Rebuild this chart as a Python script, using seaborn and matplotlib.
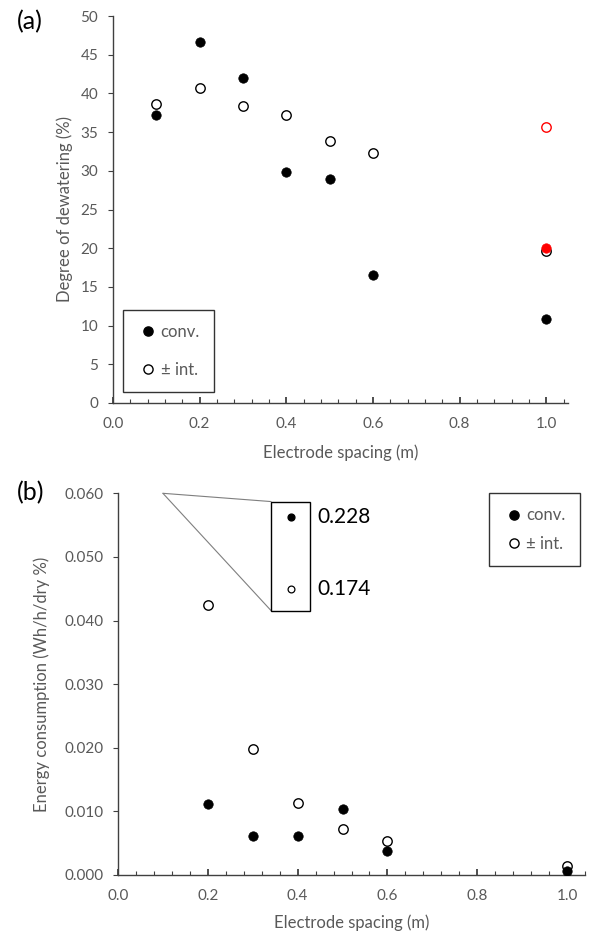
import matplotlib
matplotlib.use("Agg")
import matplotlib.pyplot as plt
from matplotlib.ticker import MultipleLocator, FormatStrFormatter
from matplotlib.lines import Line2D
import seaborn as sns
import pandas as pd

# ---------------- data ----------------
spacing_a = [0.1, 0.2, 0.3, 0.4, 0.5, 0.6, 1.0]
dew_conv = [37.2, 46.7, 42.0, 29.9, 28.9, 16.5, 10.8]
dew_int = [38.6, 40.7, 38.4, 37.2, 33.9, 32.3, 19.6]
red_spacing = [1.0]
dew_conv_red = [20.0]
dew_int_red = [35.7]

spacing_b = [0.2, 0.3, 0.4, 0.5, 0.6, 1.0]
energy_conv = [0.0111, 0.0062, 0.0062, 0.0103, 0.0038, 0.0007]
energy_int = [0.0424, 0.0198, 0.0113, 0.0073, 0.0053, 0.0014]
off_spacing = 0.1
off_conv = 0.228
off_int = 0.174

labels = ["conv.", "± int."]

# ---------------- style ----------------
sns.set_theme(style="white")
plt.rcParams['font.family'] = ['Lato', 'DejaVu Sans']
GRAY = '#595959'
SPINE = '#404040'

fig = plt.figure(figsize=(5.92, 9.35), dpi=100)
ax_a = fig.add_axes([113/592, (935-403)/935, 455/592, 387/935])
ax_b = fig.add_axes([118/592, (935-875)/935, 467/592, 381.7/935])

MS = 46
df_a = pd.DataFrame({"x": spacing_a, "conv": dew_conv, "int": dew_int})
df_ar = pd.DataFrame({"x": red_spacing, "conv": dew_conv_red, "int": dew_int_red})
df_b = pd.DataFrame({"x": spacing_b, "conv": energy_conv, "int": energy_int})

# panel a
sns.scatterplot(data=df_a, x="x", y="int", ax=ax_a, s=MS, facecolor='white',
                edgecolor='black', linewidth=1.0, zorder=3)
sns.scatterplot(data=df_a, x="x", y="conv", ax=ax_a, s=MS, color='black',
                edgecolor='black', linewidth=0.5, zorder=4)
sns.scatterplot(data=df_ar, x="x", y="int", ax=ax_a, s=MS, facecolor='white',
                edgecolor='red', linewidth=1.0, zorder=5)
sns.scatterplot(data=df_ar, x="x", y="conv", ax=ax_a, s=MS, color='red',
                edgecolor='red', linewidth=0.5, zorder=5)

# panel b
sns.scatterplot(data=df_b, x="x", y="int", ax=ax_b, s=MS, facecolor='white',
                edgecolor='black', linewidth=1.0, zorder=3)
sns.scatterplot(data=df_b, x="x", y="conv", ax=ax_b, s=MS, color='black',
                edgecolor='black', linewidth=0.5, zorder=4)

def style_axes(ax, xmax, ymax, ymajor, yfmt, ylabel, ylab_x, xlab_y):
    ax.set_xlim(0, xmax)
    ax.set_ylim(0, ymax)
    ax.xaxis.set_major_locator(MultipleLocator(0.2))
    ax.xaxis.set_minor_locator(MultipleLocator(0.04))
    ax.xaxis.set_major_formatter(FormatStrFormatter('%.1f'))
    ax.yaxis.set_major_locator(MultipleLocator(ymajor))
    ax.yaxis.set_major_formatter(FormatStrFormatter(yfmt))
    for s in ['top', 'right']:
        ax.spines[s].set_visible(False)
    for s in ['left', 'bottom']:
        ax.spines[s].set_color(SPINE)
        ax.spines[s].set_linewidth(1.0)
    ax.tick_params(axis='x', which='major', direction='in', length=4, width=1.3,
                   color=SPINE, labelcolor=GRAY, labelsize=11, pad=10, bottom=True)
    ax.tick_params(axis='x', which='minor', direction='in', length=2.6, width=0.8,
                   color=SPINE, bottom=True)
    ax.tick_params(axis='y', which='major', direction='out', length=3.6, width=0.8,
                   color=SPINE, labelcolor=GRAY, labelsize=11, pad=7, left=True)
    ax.set_xlabel("Electrode spacing (m)", fontsize=12, color=GRAY)
    ax.set_ylabel(ylabel, fontsize=12, color=GRAY)
    ax.yaxis.set_label_coords(ylab_x, 0.5)
    ax.xaxis.set_label_coords(0.5, xlab_y)
    ax.grid(False)
    ax.set_facecolor('white')

style_axes(ax_a, 1.05, 50, 5, '%d', "Degree of dewatering (%)", -0.088, -0.108)
style_axes(ax_b, 1.04, 0.060, 0.010, '%.3f', "Energy consumption (Wh/h/dry %)", -0.146, -0.104)

handles = [
    Line2D([], [], marker='o', linestyle='none', markersize=6.6,
           markerfacecolor='black', markeredgecolor='black'),
    Line2D([], [], marker='o', linestyle='none', markersize=6.6,
           markerfacecolor='white', markeredgecolor='black', markeredgewidth=1.0),
]
for ax, loc, anchor, spacing in [
        (ax_a, 'lower left', (0.022, 0.028), 1.3),
        (ax_b, 'upper right', (0.989, 1.0), 0.75)]:
    leg = ax.legend(handles, labels, loc=loc, bbox_to_anchor=anchor, borderaxespad=0,
                    frameon=True, fancybox=False, edgecolor='black', fontsize=12,
                    labelspacing=spacing, handletextpad=0.1, handlelength=1.3,
                    borderpad=0.85)
    leg.get_frame().set_linewidth(1.0)
    for t in leg.get_texts():
        t.set_color(GRAY)

# inset callout for off-scale values at 0.1 m in panel b
bx0, bx1, by0, by1 = 0.341, 0.428, 0.04155, 0.0587
ax_b.plot([off_spacing, bx0], [0.060, by1], color='#7f7f7f', lw=0.8, clip_on=False, zorder=2)
ax_b.plot([off_spacing, bx0], [0.060, by0], color='#7f7f7f', lw=0.8, clip_on=False, zorder=2)
ax_b.add_patch(plt.Rectangle((bx0, by0), bx1 - bx0, by1 - by0, fill=True,
                             facecolor='white', edgecolor='black', lw=1.0, zorder=3,
                             clip_on=False))
mx = (bx0 + bx1) / 2
ax_b.scatter([mx], [0.0562], s=24, color='black', zorder=4, clip_on=False)
ax_b.scatter([mx], [0.04495], s=24, facecolor='white', edgecolor='black',
             linewidth=0.9, zorder=4, clip_on=False)
ax_b.text(0.445, 0.0562, f"{off_conv:.3f}", fontsize=15, color='black',
          va='center', ha='left')
ax_b.text(0.445, 0.04495, f"{off_int:.3f}", fontsize=15, color='black',
          va='center', ha='left')

fig.text(30/592, 1 - 22/935, "(a)", fontsize=18, ha='center', va='center', color='black')
fig.text(31/592, 1 - 493/935, "(b)", fontsize=18, ha='center', va='center', color='black')

fig.savefig("out.png", dpi=100, facecolor='white')
